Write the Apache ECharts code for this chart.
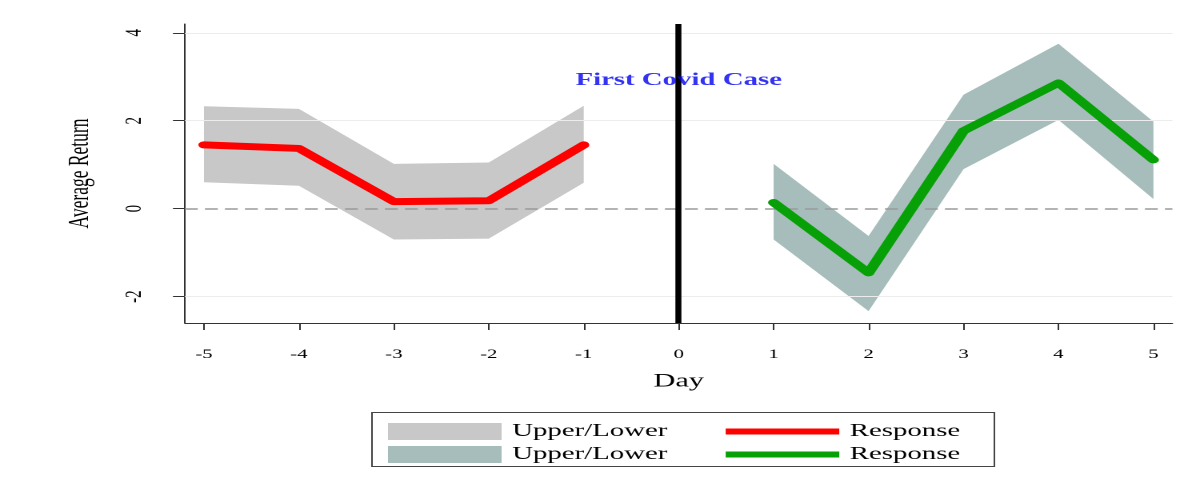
<!DOCTYPE html>
<html>
<head>
<meta charset="utf-8">
<script src="https://cdn.jsdelivr.net/npm/echarts@6/dist/echarts.min.js"></script>
<style>
  html, body { margin: 0; padding: 0; background: #fff; overflow: hidden; }
  #wrap { width: 1199px; height: 484px; overflow: hidden; position: relative; }
  #chart { width: 749.375px; height: 484px; transform: scaleX(1.6); transform-origin: 0 0; position: absolute; left: 0; top: 0; }
</style>
</head>
<body>
<div id="wrap"><div id="chart"></div></div>
<script>
// ---- data ----
const xTicks = [-5, -4, -3, -2, -1, 0, 1, 2, 3, 4, 5];
const yTicks = [-2, 0, 2, 4];

const daysPre = [-5, -4, -3, -2, -1];
const respPre = [1.45, 1.37, 0.16, 0.18, 1.45];
const upperPre = [2.33, 2.27, 1.02, 1.05, 2.34];
const lowerPre = [0.60, 0.52, -0.70, -0.68, 0.59];

const daysPost = [1, 2, 3, 4, 5];
const respPost = [0.14, -1.46, 1.77, 2.86, 1.11];
const upperPost = [1.02, -0.62, 2.59, 3.75, 1.98];
const lowerPost = [-0.70, -2.33, 0.90, 2.02, 0.22];

const eventDay = [0];
const eventLabel = 'First Covid Case';
const eventLabelY = 2.92;

const legendNames = {
  bandPre: 'Upper/Lower', respPre: 'Response',
  bandPost: 'Upper/Lower', respPost: 'Response'
};

// ---- helpers ----
function zip(xs, ys) { return xs.map((x, i) => [x, ys[i]]); }

function bandSeries(name, days, upper, lower, color) {
  return {
    name: name,
    type: 'custom',
    z: 2,
    itemStyle: { color: color },
    data: days.map((d, i) => [d, lower[i], upper[i]]),
    encode: { x: 0, y: [1, 2] },
    renderItem: function (params, api) {
      if (params.dataIndex !== 0) return null;
      const pts = [];
      for (let i = 0; i < days.length; i++) pts.push(api.coord([days[i], upper[i]]));
      for (let i = days.length - 1; i >= 0; i--) pts.push(api.coord([days[i], lower[i]]));
      return { type: 'polygon', shape: { points: pts }, style: { fill: color, stroke: null } };
    },
    silent: true
  };
}

const serif = '"Liberation Serif", "Times New Roman", serif';
const gray = '#c8c8c8', teal = '#a6bdbb', red = '#ff0000', green = '#07a107';
const lineIcon = 'path://M0,0H72V6H0Z';

const chart = echarts.init(document.getElementById('chart'), null, { renderer: 'canvas', devicePixelRatio: 2 });

const legendBase = {
  left: 237.5, orient: 'horizontal', itemGap: 36.5,
  itemWidth: 71, itemHeight: 17, selectedMode: false, symbolKeepAspect: true,
  textStyle: { fontFamily: serif, fontSize: 18, color: '#000', padding: [0, 0, 0, 1.6] },
  formatter: n => legendNames[n]
};

const option = {
  animation: false,
  backgroundColor: '#ffffff',
  grid: { left: 115.625, right: 16.25, top: 24, bottom: 161 },
  xAxis: {
    type: 'value', min: -5.2, max: 5.2,
    name: 'Day', nameLocation: 'middle', nameGap: 49,
    nameTextStyle: { fontFamily: serif, fontSize: 19, color: '#000' },
    axisLine: { show: true, onZero: false, lineStyle: { color: '#333', width: 1 } },
    axisTick: { show: true, customValues: xTicks, length: 7, lineStyle: { color: '#333' } },
    axisLabel: { customValues: xTicks, margin: 25, fontFamily: serif, fontSize: 13, color: '#000' },
    splitLine: { show: false }
  },
  yAxis: {
    type: 'value', min: -2.6, max: 4.2,
    name: 'Average Return', nameLocation: 'middle', nameRotate: 90, nameGap: 56,
    nameTextStyle: { fontFamily: serif, fontSize: 17.5, color: '#000' },
    axisLine: { show: true, onZero: false, lineStyle: { color: '#333', width: 1 } },
    axisTick: { show: true, customValues: yTicks, length: 7.5, lineStyle: { color: '#333' } },
    axisLabel: { customValues: yTicks, rotate: 90, margin: 24, fontFamily: serif, fontSize: 15, color: '#000' },
    splitLine: { show: false }
  },
  legend: [
    Object.assign({}, legendBase, {
      top: 417.5,
      data: [{ name: 'bandPre', icon: 'rect' }, { name: 'respPre', icon: lineIcon }]
    }),
    Object.assign({}, legendBase, {
      top: 440.5,
      data: [{ name: 'bandPost', icon: 'rect' }, { name: 'respPost', icon: lineIcon }]
    })
  ],
  graphic: [
    { type: 'rect', left: 230, top: 410, shape: { width: 389, height: 54 },
      style: { fill: null, stroke: '#444', lineWidth: 1 }, silent: true, z: 0 }
  ],
  series: [
    // light grid lines (under bands)
    {
      type: 'line', data: [], z: 1, silent: true,
      markLine: {
        silent: true, symbol: 'none', label: { show: false },
        lineStyle: { color: '#ececec', width: 1, type: 'solid' },
        data: yTicks.filter(v => v !== 0).map(v => ({ yAxis: v }))
      }
    },
    bandSeries('bandPre', daysPre, upperPre, lowerPre, gray),
    bandSeries('bandPost', daysPost, upperPost, lowerPost, teal),
    // zero dashed line and event line (over bands)
    {
      type: 'line', data: [], z: 3, silent: true,
      markLine: {
        silent: true, symbol: 'none', label: { show: false },
        data: [
          { yAxis: 0, lineStyle: { color: '#9a9a9a', width: 1.6, type: [8, 4.5] } },
          { xAxis: eventDay[0], lineStyle: { color: '#000', width: 3.75, type: 'solid' } }
        ]
      }
    },
    {
      name: 'respPre', type: 'line', z: 5, symbol: 'none',
      data: zip(daysPre, respPre),
      itemStyle: { color: red },
      lineStyle: { color: red, width: 7, cap: 'round', join: 'round' }
    },
    {
      name: 'respPost', type: 'line', z: 5, symbol: 'none',
      data: zip(daysPost, respPost),
      itemStyle: { color: green },
      lineStyle: { color: green, width: 7, cap: 'round', join: 'round' }
    },
    {
      type: 'scatter', z: 6, symbolSize: 0, silent: true,
      data: [[eventDay[0], eventLabelY]],
      label: {
        show: true, position: 'inside', formatter: eventLabel,
        fontFamily: serif, fontWeight: 'bold', fontSize: 18, color: '#0000ee'
      }
    }
  ]
};
chart.setOption(option);
</script>
</body>
</html>
